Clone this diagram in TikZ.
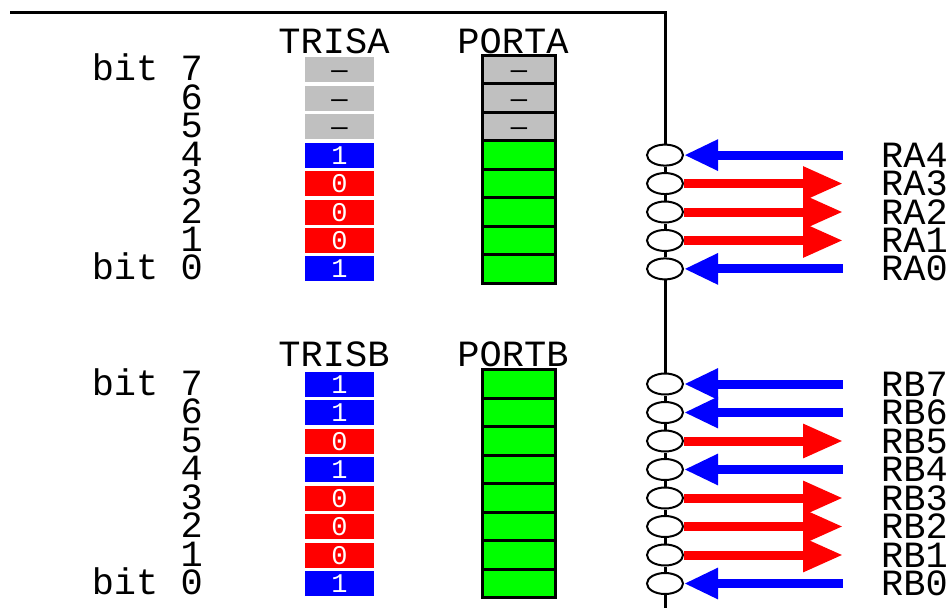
\documentclass[tikz,border=0pt]{standalone}
\usepackage{fontspec}
\newfontfamily\pixfont{Liberation Mono}
\usetikzlibrary{shapes.geometric,arrows.meta}
\definecolor{portgrey}{RGB}{192,192,192}

\begin{document}
\begin{tikzpicture}[x=1pt,y=-1pt,
	lbl/.style={font=\pixfont\fontsize{37}{37}\selectfont,inner sep=0pt,text height=24pt,text depth=0pt},
	bitval/.style={minimum width=69pt,minimum height=25pt,inner sep=0pt,text height=18pt,text depth=0pt,font=\pixfont\fontsize{27}{27}\selectfont},
	latch/.style={draw=black,line width=3pt,minimum width=73pt,minimum height=28.45pt,inner sep=0pt,text height=18pt,text depth=0pt,font=\pixfont\fontsize{27}{27}\selectfont},
	pin/.style={ellipse,draw=black,line width=2pt,minimum width=36pt,minimum height=21pt,inner sep=0pt},
	wire/.style={black,line width=3pt},
	inarrow/.style={blue,line width=9pt,{Triangle[length=34pt,width=29pt]}-},
	outarrow/.style={red,line width=9pt,-{Triangle[length=40pt,width=32pt]}}]
	\useasboundingbox (0,0) rectangle (951,608);

	\node [lbl,anchor=base] (trisa) at (334,53) {TRISA};
	\node [lbl,anchor=base] (porta) at (513,53) {PORTA};
	\node [lbl,anchor=base] (trisb) at (334,366) {TRISB};
	\node [lbl,anchor=base] (portb) at (513,366) {PORTB};

	% port A: direction bits, latch, bit numbers
	\foreach \b/\l/\c/\t/\v/\p in {7/bit 7/portgrey/black/—/portgrey, 6/6/portgrey/black/—/portgrey, 5/5/portgrey/black/—/portgrey,
		4/4/blue/white/1/green, 3/3/red/white/0/green, 2/2/red/white/0/green, 1/1/red/white/0/green, 0/bit 0/blue/white/1/green}{
		\pgfmathsetmacro{\y}{69.75+(7-\b)*28.45}
		\node [lbl,anchor=base east] (na\b) at (203,\y+11) {\l};
		\node [bitval,fill=\c,text=\t] (ta\b) at (339.5,\y) {\v};
		\node [latch,fill=\p] (pa\b) at (519,\y) {\ifnum\b>4 —\fi};
	}

	% port B
	\foreach \b/\l/\c/\v in {7/bit 7/blue/1, 6/6/blue/1, 5/5/red/0, 4/4/blue/1, 3/3/red/0, 2/2/red/0, 1/1/red/0, 0/bit 0/blue/1}{
		\pgfmathsetmacro{\y}{384+(7-\b)*28.5}
		\node [lbl,anchor=base east] (nb\b) at (203,\y+11) {\l};
		\node [bitval,fill=\c,text=white] (tb\b) at (339.5,\y) {\v};
		\node [latch,fill=green,minimum height=28.5pt] (pb\b) at (519,\y) {};
	}

	% pins RA4..RA0
	\foreach \b/\s in {4/inarrow, 3/outarrow, 2/outarrow, 1/outarrow, 0/inarrow}{
		\pgfmathsetmacro{\y}{69.75+(7-\b)*28.45}
		\node [pin] (ca\b) at (665,\y) {};
		\coordinate (ea\b) at (843,\y);
		\node [lbl,anchor=base west] (ra\b) at (881,\y+12) {RA\b};
		\draw [\s] (ca\b) -- (ea\b);
	}

	% pins RB7..RB0
	\foreach \b/\s in {7/inarrow, 6/inarrow, 5/outarrow, 4/inarrow, 3/outarrow, 2/outarrow, 1/outarrow, 0/inarrow}{
		\pgfmathsetmacro{\y}{384+(7-\b)*28.5}
		\node [pin] (cb\b) at (665,\y) {};
		\coordinate (eb\b) at (843,\y);
		\node [lbl,anchor=base west] (rb\b) at (881,\y+12) {RB\b};
		\draw [\s] (cb\b) -- (eb\b);
	}

	% bus line
	\coordinate (busstart) at (10,12.5);
	\coordinate (busfoot) at (665,608);
	\draw [wire] (busstart) -| (ca4.north);
	\draw [wire] (ca4) -- (ca3) -- (ca2) -- (ca1) -- (ca0) -- (cb7) -- (cb6) -- (cb5) -- (cb4) -- (cb3) -- (cb2) -- (cb1) -- (cb0);
	\draw [wire] (cb0.south) -- (busfoot);
\end{tikzpicture}
\end{document}
